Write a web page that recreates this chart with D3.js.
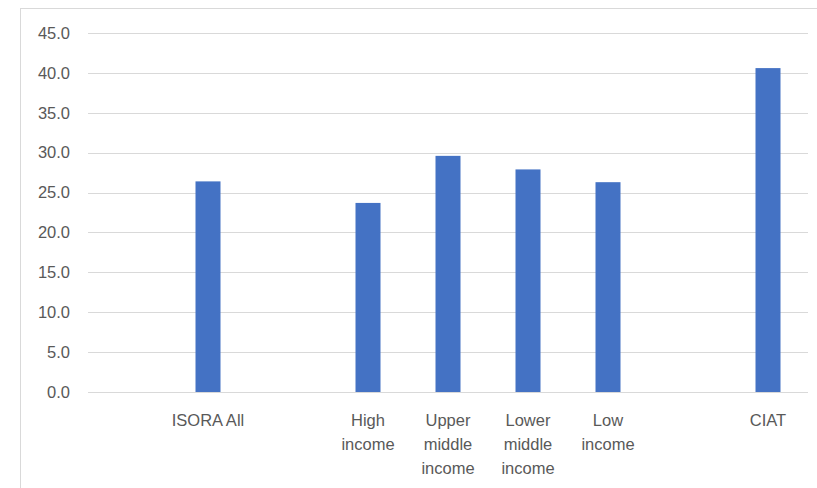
<!DOCTYPE html>
<html>
<head>
<meta charset="utf-8">
<script src="https://cdn.jsdelivr.net/npm/d3@7"></script>
<style>
  html, body { margin: 0; padding: 0; background: #fff; }
  svg { display: block; }
  text { font-family: "Liberation Sans", Arial, sans-serif; fill: #595959; }
</style>
</head>
<body>
<svg id="chart" width="817" height="488"></svg>
<script>
// Data (blank slots are empty category labels)
const categories = ["", "ISORA All", "", "High income", "Upper middle income", "Lower middle income", "Low income", "", "CIAT"];
const values = [null, 26.4, null, 23.7, 29.6, 27.9, 26.3, null, 40.6];
const yTicks = [0, 5, 10, 15, 20, 25, 30, 35, 40, 45];

const svg = d3.select("#chart");
const W = 817, H = 488;
const plot = { left: 88, right: 808, top: 33, bottom: 392 };

// Outer chart border (cropped)
svg.append("rect")
  .attr("x", 20.5).attr("y", 8.5)
  .attr("width", 820).attr("height", 500)
  .attr("fill", "none").attr("stroke", "#d9d9d9").attr("stroke-width", 1);

const x = d3.scaleBand()
  .domain(d3.range(categories.length))
  .range([plot.left, plot.right])
  .paddingInner(0.6875)
  .paddingOuter(0.34375);

const y = d3.scaleLinear().domain([0, 45]).range([plot.bottom, plot.top]);

// Gridlines
svg.append("g").selectAll("line").data(yTicks).join("line")
  .attr("x1", plot.left).attr("x2", plot.right)
  .attr("y1", d => Math.round(y(d)) + 0.5).attr("y2", d => Math.round(y(d)) + 0.5)
  .attr("stroke", "#d9d9d9").attr("stroke-width", 1);

// Y axis labels
const yAxis = d3.axisLeft(y).tickValues(yTicks).tickFormat(d3.format(".1f")).tickSize(0).tickPadding(0);
const gy = svg.append("g").attr("transform", "translate(70,0)").call(yAxis);
gy.select(".domain").remove();
gy.selectAll("text").attr("font-size", 16.5).attr("fill", "#595959")
  .style("font-family", "\"Liberation Sans\", Arial, sans-serif");

// Bars
svg.append("g").selectAll("rect")
  .data(values.map((v, i) => ({ v, i })).filter(d => d.v != null))
  .join("rect")
  .attr("x", d => x(d.i))
  .attr("width", x.bandwidth())
  .attr("y", d => y(d.v))
  .attr("height", d => y(0) - y(d.v))
  .attr("fill", "#4472C4");

// X labels with wrapping
const xg = svg.append("g");
categories.forEach((c, i) => {
  if (!c) return;
  const cx = x(i) + x.bandwidth() / 2;
  const t = xg.append("text")
    .attr("x", cx).attr("y", 426)
    .attr("text-anchor", "middle")
    .attr("font-size", 16.5);
  const words = c.split(" ");
  let line = [];
  let lineNo = 0;
  let tspan = t.append("tspan").attr("x", cx).attr("dy", 0);
  words.forEach(w => {
    line.push(w);
    tspan.text(line.join(" "));
    if (tspan.node().getComputedTextLength() > 78 && line.length > 1) {
      line.pop();
      tspan.text(line.join(" "));
      line = [w];
      lineNo++;
      tspan = t.append("tspan").attr("x", cx).attr("dy", 24).text(w);
    }
  });
});
</script>
</body>
</html>
